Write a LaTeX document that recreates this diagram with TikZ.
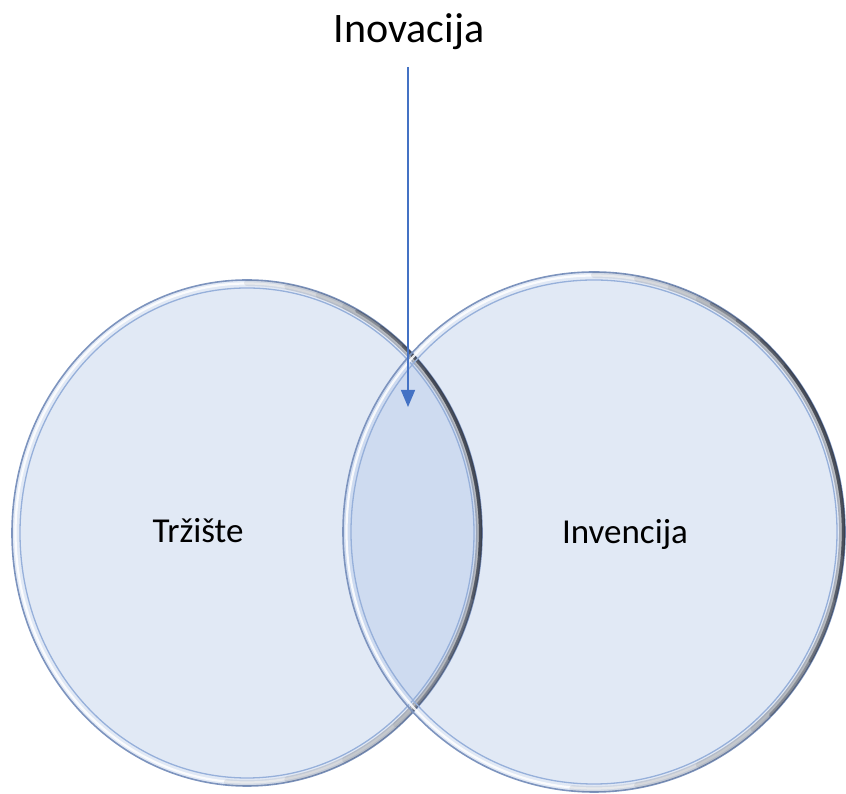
\documentclass[tikz,border=0pt]{standalone}
\usepackage{fontspec}
\setmainfont{Carlito}
\usetikzlibrary{shapes.geometric,arrows.meta}
\definecolor{fillblue}{RGB}{176,196,230}
\definecolor{rimblue}{RGB}{125,148,190}
\definecolor{innerblue}{RGB}{150,176,218}
\definecolor{arrowblue}{RGB}{68,114,196}
\definecolor{shadowgray}{RGB}{45,50,62}
\tikzset{
 venn/.style={ellipse, fill=fillblue, fill opacity=0.38, draw=none, inner sep=0pt},
 lbl/.style={font=\fontsize{35}{40}\selectfont, text=black, inner sep=0pt, anchor=base},
 toplbl/.style={font=\fontsize{42}{48}\selectfont, text=black, inner sep=0pt, anchor=base},
 rim/.style={draw=rimblue, line width=1.6pt},
 glint/.style={draw=white, line width=2.2pt, opacity=0.85},
 innerrim/.style={draw=innerblue, line width=1.3pt},
 shadeA/.style={draw=shadowgray, line width=6pt, opacity=0.09, line cap=round},
 shadeB/.style={draw=shadowgray, line width=3.2pt, opacity=0.3, line cap=round},
 pointer/.style={draw=arrowblue, line width=1.5pt, -{Triangle[width=14pt,length=17pt]}},
}
% #1 node, #2 rx, #3 ry, #4 start angle, #5 end angle, #6 style
\newcommand\shadearc[6]{%
  \draw[#6] ({(#2)*cos(#4)},{(#3)*sin(#4)}) arc[start angle=#4,end angle=#5,x radius=#2,y radius=#3];}
\newcommand\vennrim[3]{%
 \begin{scope}[shift={(#1.center)}]
  \draw[rim] (0,0) ellipse[x radius=#2, y radius=#3];
  \draw[glint] (0,0) ellipse[x radius=#2-3.5, y radius=#3-3.5];
  \draw[innerrim] (0,0) ellipse[x radius=#2-8, y radius=#3-8];
  \shadearc{#1}{#2-3}{#3-3}{-95}{90}{shadeA}
  \shadearc{#1}{#2-3}{#3-3}{-80}{80}{shadeA}
  \shadearc{#1}{#2-3}{#3-3}{-65}{72}{shadeA}
  \shadearc{#1}{#2-3}{#3-3}{-50}{65}{shadeA}
  \shadearc{#1}{#2-1.5}{#3-1.5}{-45}{62}{shadeB}
  \shadearc{#1}{#2-1.5}{#3-1.5}{-30}{55}{shadeB}
  \shadearc{#1}{#2-1.5}{#3-1.5}{-15}{48}{shadeB}
  \shadearc{#1}{#2-1.5}{#3-1.5}{-5}{40}{shadeB}
 \end{scope}}
\begin{document}
\begin{tikzpicture}[x=1pt,y=1pt]
\useasboundingbox (0,0) rectangle (846,794);
\node[venn, minimum width=470pt, minimum height=506pt] (lc) at (247,261) {};
\node[venn, minimum width=502pt, minimum height=520pt] (rc) at (594,262) {};
\vennrim{lc}{235}{253}
\vennrim{rc}{251}{260}
\node[lbl] (t1) at (198,251) {Tržište};
\node[lbl] (t2) at (625,250) {Invencija};
\node[toplbl] (t3) at (409,751) {Inovacija};
\coordinate (a0) at (408,727);
\coordinate (a1) at (408,387);
\draw[pointer] (a0) -- (a1);
\end{tikzpicture}
\end{document}
